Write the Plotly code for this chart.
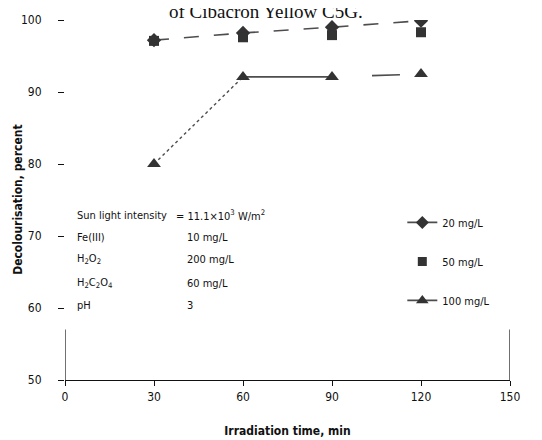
import plotly.graph_objects as go

time_min = [30, 60, 90, 120]
conc_20 = [97.2, 98.2, 99.0, 99.9]
conc_50 = [97.1, 97.6, 97.9, 98.3]
conc_100 = [80.0, 92.1, 92.1, 92.5]
series_names = ["20 mg/L", "50 mg/L", "100 mg/L"]
x_ticks = [0, 30, 60, 90, 120, 150]
y_ticks = [50, 60, 70, 80, 90, 100]
cond_labels = ["Sun light intensity", "Fe(III)", "H<sub>2</sub>O<sub>2</sub>",
               "H<sub>2</sub>C<sub>2</sub>O<sub>4</sub>", "pH"]
cond_values = ["= 11.1×10<sup>3</sup> W/m<sup>2</sup>", "10 mg/L", "200 mg/L", "60 mg/L", "3"]

MK = "#333333"
LN = "#4d4d4d"
FONT = "DejaVu Sans Condensed"

fig = go.Figure()

# 20 mg/L : diamonds, long dashed
fig.add_trace(go.Scatter(x=time_min, y=conc_20, mode="lines+markers",
                         line=dict(color=LN, width=1.6, dash="longdash"),
                         marker=dict(symbol="diamond", size=11, color=MK),
                         showlegend=False))
# 50 mg/L : squares
fig.add_trace(go.Scatter(x=time_min, y=conc_50, mode="markers",
                         marker=dict(symbol="square", size=10, color=MK),
                         showlegend=False))
# 100 mg/L : triangles, mixed segments
fig.add_trace(go.Scatter(x=time_min[0:2], y=conc_100[0:2], mode="lines",
                         line=dict(color=LN, width=1.4, dash="dot"), showlegend=False))
fig.add_trace(go.Scatter(x=time_min[1:3], y=conc_100[1:3], mode="lines",
                         line=dict(color=LN, width=1.6), showlegend=False))
fig.add_trace(go.Scatter(x=time_min[2:4], y=conc_100[2:4], mode="lines",
                         line=dict(color=LN, width=1.6, dash="0px,40px,28px,200px"),
                         showlegend=False))
fig.add_trace(go.Scatter(x=time_min, y=conc_100, mode="markers",
                         marker=dict(symbol="triangle-up", size=12, color=MK),
                         showlegend=False))

# legend entries
fig.add_trace(go.Scatter(x=[None], y=[None], mode="lines+markers", name=series_names[0],
                         line=dict(color=LN, width=1.6),
                         marker=dict(symbol="diamond", size=10, color=MK), legendgroup="a"))
fig.add_trace(go.Scatter(x=[None], y=[None], mode="markers", name=series_names[1],
                         marker=dict(symbol="square", size=9, color=MK), legendgroup="b"))
fig.add_trace(go.Scatter(x=[None], y=[None], mode="lines+markers", name=series_names[2],
                         line=dict(color=LN, width=1.6),
                         marker=dict(symbol="triangle-up", size=11, color=MK), legendgroup="c"))

ys = [0.456, 0.397, 0.336, 0.269, 0.206]
ann = []
for lab, val, yy in zip(cond_labels, cond_values, ys):
    ann.append(dict(x=0.022, y=yy, xref="paper", yref="paper", text=lab, showarrow=False,
                    xanchor="left", yanchor="middle", font=dict(size=11, color="#111", family=FONT)))
    ann.append(dict(x=0.245 if val.startswith("=") else 0.27, y=yy, xref="paper", yref="paper",
                    text=val, showarrow=False, xanchor="left", yanchor="middle",
                    font=dict(size=11, color="#111", family=FONT)))
ann.append(dict(x=0.452, y=1, xref="paper", yref="paper", text="of Cibacron Yellow C5G.",
                showarrow=False, xanchor="center", yanchor="middle", yshift=9,
                font=dict(size=19, color="#111", family="Liberation Serif")))
ann.append(dict(x=-0.106, y=0.5, xref="paper", yref="paper",
                text="<b>Decolourisation, percent</b>", textangle=-90,
                showarrow=False, xanchor="center", yanchor="middle",
                font=dict(size=12, color="#111", family=FONT)))

fig.update_layout(
    width=542, height=440,
    margin=dict(l=57, r=40, t=12, b=68),
    paper_bgcolor="white", plot_bgcolor="white",
    annotations=ann,
    legend=dict(x=0.758, y=0.478, xanchor="left", yanchor="top",
                font=dict(size=11, color="#111", family=FONT),
                tracegroupgap=20, bgcolor="rgba(0,0,0,0)"),
    shapes=[
        dict(type="line", xref="x", yref="y", x0=0, x1=0, y0=50, y1=57,
             line=dict(color="#111", width=1.2)),
        dict(type="line", xref="x", yref="y", x0=150, x1=150, y0=50, y1=57,
             line=dict(color="#111", width=1.2)),
    ],
)
fig.update_xaxes(range=[0, 150], tickvals=x_ticks, ticks="outside", ticklen=5,
                 tickcolor="#111", showline=True, linecolor="#111", linewidth=1.2,
                 showgrid=False, zeroline=False, automargin=False,
                 tickfont=dict(size=12, color="#111", family=FONT),
                 title=dict(text="<b>Irradiation time, min</b>", standoff=24,
                            font=dict(size=12, color="#111", family=FONT)))
fig.update_yaxes(range=[50, 100], tickvals=y_ticks, ticks="outside", ticklen=6,
                 tickcolor="#111", showline=False, showgrid=False, zeroline=False,
                 automargin=False, ticklabelstandoff=14,
                 tickfont=dict(size=12, color="#111", family=FONT))

fig.write_html("out.html")
